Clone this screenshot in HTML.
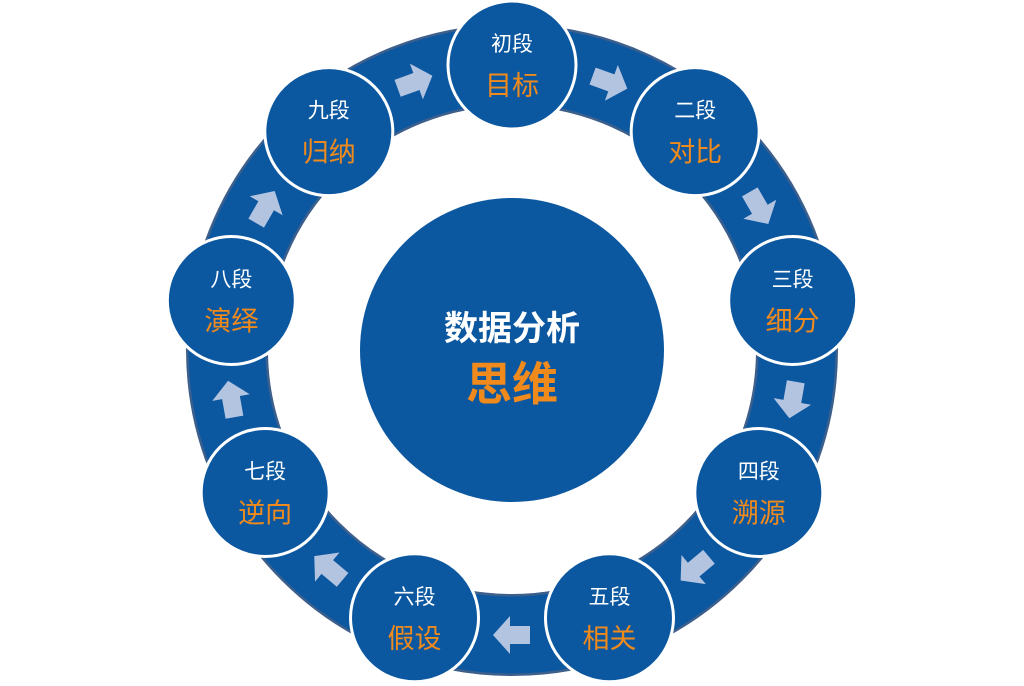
<!DOCTYPE html>
<html><head><meta charset="utf-8"><style>
html,body{margin:0;padding:0;background:#fff;}
svg{display:block;}
text{font-family:"Liberation Sans","Noto Sans CJK SC",sans-serif;}
</style></head><body>
<svg width="1024" height="686" viewBox="0 0 1024 686">
<defs>
<g id="arr"><polygon points="-18,-9 2,-9 2,-19 19,0 2,19 2,9 -18,9" fill="#b3c4e1"/></g>
</defs>
<circle cx="512" cy="350" r="285" fill="none" stroke="#3d5f8c" stroke-width="82"/>
<circle cx="512" cy="350" r="285" fill="none" stroke="#0c58a0" stroke-width="77"/>
<g id="arrows"></g>
<g id="nodes"></g>
<circle cx="512" cy="350" r="152" fill="#0c58a0"/>
<text x="512" y="340" text-anchor="middle" font-size="34" font-weight="bold" fill="#fff">数据分析</text>
<text x="512" y="400" text-anchor="middle" font-size="46" font-weight="bold" fill="#f08a1c">思维</text>
</svg>
<script>
var ns="http://www.w3.org/2000/svg";
var labels=[["初段","目标"],["二段","对比"],["三段","细分"],["四段","溯源"],["五段","相关"],["六段","假设"],["七段","逆向"],["八段","演绎"],["九段","归纳"]];
var A=document.getElementById("arrows"),N=document.getElementById("nodes");
for(var i=0;i<9;i++){
 var t=(-90+40*i)*Math.PI/180;
 var x=512+285*Math.cos(t),y=350+285*Math.sin(t);
 var c=document.createElementNS(ns,"circle");
 c.setAttribute("cx",x);c.setAttribute("cy",y);c.setAttribute("r",64);
 c.setAttribute("fill","#0c58a0");c.setAttribute("stroke","#fff");c.setAttribute("stroke-width","3");
 N.appendChild(c);
 var t1=document.createElementNS(ns,"text");
 t1.setAttribute("x",x);t1.setAttribute("y",y-14);t1.setAttribute("text-anchor","middle");
 t1.setAttribute("font-size","21");t1.setAttribute("fill","#fff");t1.textContent=labels[i][0];N.appendChild(t1);
 var t2=document.createElementNS(ns,"text");
 t2.setAttribute("x",x);t2.setAttribute("y",y+30);t2.setAttribute("text-anchor","middle");
 t2.setAttribute("font-size","27");t2.setAttribute("fill","#f08a1c");t2.textContent=labels[i][1];N.appendChild(t2);
 var ad=-70+40*i, ta=ad*Math.PI/180;
 var ax=512+285*Math.cos(ta),ay=350+285*Math.sin(ta);
 var u=document.createElementNS(ns,"use");
 u.setAttribute("href","#arr");
 u.setAttribute("transform","translate("+ax+","+ay+") rotate("+(ad+90)+")");
 A.appendChild(u);
}
</script>
</body></html>
